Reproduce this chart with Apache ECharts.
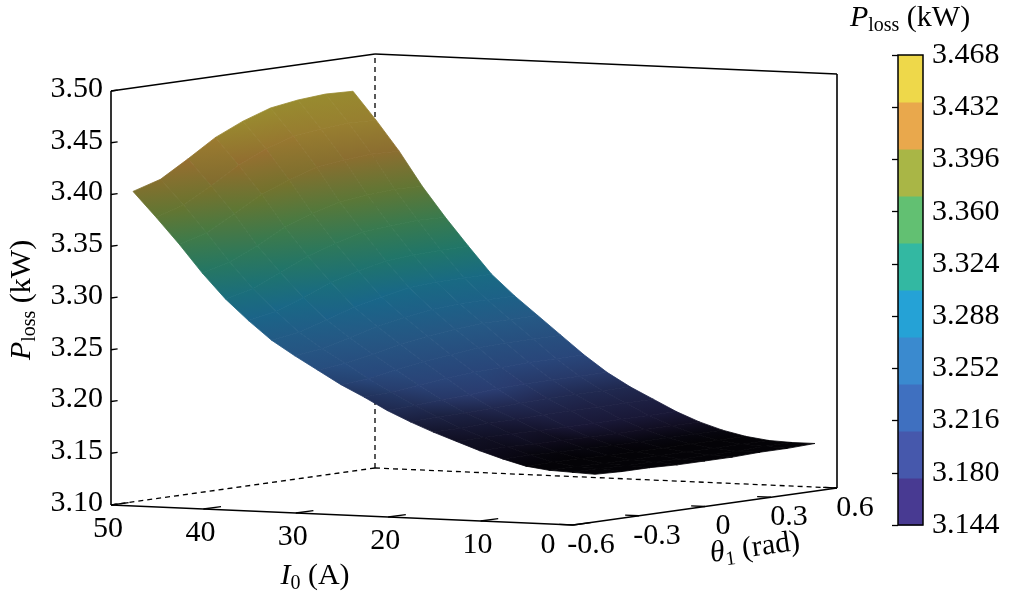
<!DOCTYPE html>
<html>
<head>
<meta charset="utf-8">
<script src="https://cdn.jsdelivr.net/npm/echarts@6/dist/echarts.min.js"></script>
<style>
html, body { margin: 0; padding: 0; background: #fff; }
#chart { width: 1012px; height: 607px; }
</style>
</head>
<body>
<div id="chart"></div>
<script>
// surface samples: one array per theta column, along I0
var i0Values = [0, 2.5, 5, 7.5, 10, 12.5, 15, 17.5, 20, 22.5, 25, 27.5, 30, 32.5, 35, 37.5, 40, 42.5, 45, 47.5, 50];
var thetaValues = [-0.5, -0.375, -0.25, -0.125, 0, 0.125, 0.25, 0.375, 0.5];
var lossThetaM500 = [3.146, 3.147, 3.148, 3.151, 3.157, 3.164, 3.172, 3.180, 3.189, 3.199, 3.211, 3.222, 3.235, 3.248, 3.262, 3.280, 3.300, 3.324, 3.351, 3.376, 3.400];
var lossThetaM375 = [3.145, 3.147, 3.148, 3.151, 3.157, 3.164, 3.172, 3.180, 3.190, 3.200, 3.212, 3.224, 3.238, 3.251, 3.266, 3.285, 3.306, 3.331, 3.358, 3.384, 3.408];
var lossThetaM250 = [3.145, 3.146, 3.147, 3.151, 3.156, 3.163, 3.172, 3.181, 3.190, 3.202, 3.215, 3.229, 3.243, 3.258, 3.274, 3.295, 3.318, 3.343, 3.373, 3.399, 3.424];
var lossThetaM125 = [3.144, 3.146, 3.147, 3.150, 3.156, 3.163, 3.171, 3.181, 3.191, 3.203, 3.218, 3.233, 3.249, 3.265, 3.283, 3.306, 3.330, 3.357, 3.388, 3.415, 3.441];
var lossTheta000  = [3.144, 3.145, 3.147, 3.150, 3.155, 3.162, 3.171, 3.182, 3.192, 3.205, 3.220, 3.236, 3.253, 3.270, 3.289, 3.313, 3.339, 3.367, 3.398, 3.427, 3.453];
var lossThetaP125 = [3.144, 3.145, 3.147, 3.150, 3.155, 3.162, 3.171, 3.182, 3.193, 3.206, 3.221, 3.239, 3.256, 3.274, 3.294, 3.319, 3.346, 3.374, 3.407, 3.436, 3.462];
var lossThetaP250 = [3.145, 3.145, 3.147, 3.150, 3.155, 3.162, 3.171, 3.182, 3.193, 3.206, 3.222, 3.240, 3.258, 3.276, 3.296, 3.321, 3.348, 3.377, 3.410, 3.439, 3.466];
var lossThetaP375 = [3.145, 3.146, 3.147, 3.150, 3.155, 3.162, 3.171, 3.182, 3.193, 3.206, 3.222, 3.240, 3.258, 3.276, 3.296, 3.322, 3.350, 3.379, 3.412, 3.441, 3.468];
var lossThetaP500 = [3.146, 3.146, 3.147, 3.150, 3.155, 3.162, 3.171, 3.182, 3.193, 3.206, 3.222, 3.240, 3.258, 3.276, 3.296, 3.322, 3.349, 3.378, 3.411, 3.440, 3.467];
var lossColumns = [lossThetaM500, lossThetaM375, lossThetaM250, lossThetaM125, lossTheta000,
                   lossThetaP125, lossThetaP250, lossThetaP375, lossThetaP500];

// axes
var i0Ticks = [50, 40, 30, 20, 10, 0];
var thetaTicks = [-0.6, -0.3, 0, 0.3, 0.6];
var zTicks = [3.10, 3.15, 3.20, 3.25, 3.30, 3.35, 3.40, 3.45, 3.50];
var i0Range = [0, 50];
var thetaRange = [-0.6, 0.6];
var zRange = [3.10, 3.50];

// colour bar (bands from bottom to top)
var cbarMin = 3.144;
var cbarMax = 3.468;
var cbarStep = 0.036;
var cbarColors = ['#483a92', '#4658ac', '#3f70c0', '#3a8acf', '#25a2d6',
                  '#33b8a2', '#62c072', '#a9b646', '#e9a84c', '#eed84a'];

var FONT = 'Liberation Serif';

// orthographic view of the box: front-bottom corner and the three edge vectors
var O = [573, 525], U = [-462, -20], V = [264, -37], W = [0, -414];
var VIEW = [0.5714, 1, -0.1173];
var LIGHT = (function () {
    var l = [-0.5714, -1, -0.15], m = Math.hypot(l[0], l[1], l[2]);
    return [l[0] / m, l[1] / m, l[2] / m];
})();

function norm(v, r) { return (v - r[0]) / (r[1] - r[0]); }
function proj(I, th, z) {
    var u = norm(I, i0Range), v = norm(th, thetaRange), w = norm(z, zRange);
    return [O[0] + u * U[0] + v * V[0] + w * W[0], O[1] + u * U[1] + v * V[1] + w * W[1]];
}

function hexRgb(h) {
    return [parseInt(h.slice(1, 3), 16), parseInt(h.slice(3, 5), 16), parseInt(h.slice(5, 7), 16)];
}
var cbarRgb = cbarColors.map(hexRgb);
function cmap(z) {
    var n = cbarRgb.length;
    var t = norm(z, [cbarMin, cbarMax]) * n - 0.5;
    t = Math.max(0, Math.min(n - 1, t));
    var k = Math.min(n - 2, Math.floor(t)), f = t - k;
    return [0, 1, 2].map(function (c) { return cbarRgb[k][c] + (cbarRgb[k + 1][c] - cbarRgb[k][c]) * f; });
}

var nI = i0Values.length, nT = thetaValues.length;
function zAt(i, j) { return lossColumns[j][i]; }

// vertex shading from the surface normal (light near the camera)
var vertexColor = [];
for (var i = 0; i < nI; i++) {
    vertexColor.push([]);
    for (var j = 0; j < nT; j++) {
        var a = Math.max(0, i - 1), b = Math.min(nI - 1, i + 1);
        var c = Math.max(0, j - 1), d = Math.min(nT - 1, j + 1);
        var dwdu = (norm(zAt(b, j), zRange) - norm(zAt(a, j), zRange)) /
                   (norm(i0Values[b], i0Range) - norm(i0Values[a], i0Range));
        var dwdv = (norm(zAt(i, d), zRange) - norm(zAt(i, c), zRange)) /
                   (norm(thetaValues[d], thetaRange) - norm(thetaValues[c], thetaRange));
        var len = Math.hypot(dwdu, dwdv, 1);
        var cos = (-dwdu * LIGHT[0] - dwdv * LIGHT[1] + LIGHT[2]) / len;
        var k = Math.max(0.05, Math.min(0.64, 0.05 + 2.9 * Math.max(cos, 0)));
        vertexColor[i].push(cmap(zAt(i, j)).map(function (x) { return x * k; }));
    }
}
function rgb(c) {
    return 'rgb(' + c.map(function (x) { return Math.round(Math.max(0, Math.min(255, x))); }).join(',') + ')';
}

// quads sorted far to near
var quads = [];
for (var qi = 0; qi < nI - 1; qi++) {
    for (var qj = 0; qj < nT - 1; qj++) {
        var u = norm((i0Values[qi] + i0Values[qi + 1]) / 2, i0Range);
        var v = norm((thetaValues[qj] + thetaValues[qj + 1]) / 2, thetaRange);
        var w = norm((zAt(qi, qj) + zAt(qi + 1, qj + 1)) / 2, zRange);
        quads.push([qi, qj, VIEW[0] * u + VIEW[1] * v + VIEW[2] * w]);
    }
}
quads.sort(function (p, q) { return q[2] - p[2]; });

// best single-direction linear gradient through the four corner colours
function quadGradient(pts, cols) {
    var mx = 0, my = 0, mc = [0, 0, 0];
    pts.forEach(function (p, k) {
        mx += p[0] / 4; my += p[1] / 4;
        for (var ch = 0; ch < 3; ch++) mc[ch] += cols[k][ch] / 4;
    });
    var sxx = 0, sxy = 0, syy = 0, sxc = [0, 0, 0], syc = [0, 0, 0];
    pts.forEach(function (p, k) {
        var dx = p[0] - mx, dy = p[1] - my;
        sxx += dx * dx; sxy += dx * dy; syy += dy * dy;
        for (var ch = 0; ch < 3; ch++) {
            sxc[ch] += dx * (cols[k][ch] - mc[ch]);
            syc[ch] += dy * (cols[k][ch] - mc[ch]);
        }
    });
    var det = sxx * syy - sxy * sxy;
    var g = [0, 0, 0].map(function (_, ch) {
        if (Math.abs(det) < 1e-9) return [0, 0];
        return [(syy * sxc[ch] - sxy * syc[ch]) / det, (sxx * syc[ch] - sxy * sxc[ch]) / det];
    });
    var m00 = 0, m01 = 0, m11 = 0;
    g.forEach(function (b) { m00 += b[0] * b[0]; m01 += b[0] * b[1]; m11 += b[1] * b[1]; });
    var ang = 0.5 * Math.atan2(2 * m01, m00 - m11);
    var dir = [Math.cos(ang), Math.sin(ang)];
    var ts = pts.map(function (p) { return (p[0] - mx) * dir[0] + (p[1] - my) * dir[1]; });
    var t0 = Math.min.apply(null, ts), t1 = Math.max.apply(null, ts);
    if (t1 - t0 < 1e-6) { t0 -= 0.5; t1 += 0.5; }
    function colAt(t) {
        return mc.map(function (m, ch) { return m + (g[ch][0] * dir[0] + g[ch][1] * dir[1]) * t; });
    }
    return new echarts.graphic.LinearGradient(
        mx + dir[0] * t0, my + dir[1] * t0, mx + dir[0] * t1, my + dir[1] * t1,
        [{ offset: 0, color: rgb(colAt(t0)) }, { offset: 1, color: rgb(colAt(t1)) }], true);
}

function renderSurface(params, api) {
    var i = api.value(0), j = api.value(1);
    var idx = [[i, j], [i, j + 1], [i + 1, j + 1], [i + 1, j]];
    var pts = idx.map(function (p) {
        return api.coord(proj(i0Values[p[0]], thetaValues[p[1]], zAt(p[0], p[1])));
    });
    var cols = idx.map(function (p) { return vertexColor[p[0]][p[1]]; });
    var grad = quadGradient(pts, cols);
    return {
        type: 'polygon',
        shape: { points: pts },
        style: { fill: grad, stroke: grad, lineWidth: 0.8 }
    };
}

function seg(api, p, q, dashed, width) {
    var a = api.coord(p), b = api.coord(q);
    return {
        type: 'line',
        shape: { x1: a[0], y1: a[1], x2: b[0], y2: b[1] },
        style: { stroke: '#000', lineWidth: width || 1.3, lineDash: dashed ? [5, 4] : null }
    };
}

var I1 = i0Range[1], I0 = i0Range[0], T0 = thetaRange[0], T1 = thetaRange[1], Z0 = zRange[0], Z1 = zRange[1];

function renderBack(params, api) {
    return {
        type: 'group',
        children: [
            seg(api, proj(I1, T1, Z0), proj(I1, T1, Z1), true),
            seg(api, proj(I1, T1, Z0), proj(I1, T0, Z0), true),
            seg(api, proj(I1, T1, Z0), proj(I0, T1, Z0), true)
        ]
    };
}

function renderFront(params, api) {
    var ch = [
        seg(api, proj(I1, T0, Z0), proj(I0, T0, Z0), false, 1.6),
        seg(api, proj(I0, T0, Z0), proj(I0, T1, Z0), false, 1.6),
        seg(api, proj(I1, T0, Z0), proj(I1, T0, Z1), false, 1.6),
        seg(api, proj(I0, T1, Z0), proj(I0, T1, Z1), false, 1.6),
        seg(api, proj(I1, T0, Z1), proj(I1, T1, Z1), false, 1.6),
        seg(api, proj(I1, T1, Z1), proj(I0, T1, Z1), false, 1.6)
    ];
    i0Ticks.forEach(function (t) { ch.push(seg(api, proj(t, T0, Z0), proj(t, T0 + 0.08, Z0), false, 1.3)); });
    thetaTicks.forEach(function (t) { ch.push(seg(api, proj(I0, t, Z0), proj(I0 + 1.5, t, Z0), false, 1.3)); });
    zTicks.forEach(function (t) { ch.push(seg(api, proj(I1, T0, t), proj(I1, T0 + 0.03, t), false, 1.3)); });
    return { type: 'group', children: ch };
}

var rich = {
    i: { fontFamily: FONT, fontStyle: 'italic', fontSize: 30, color: '#000' },
    s: { fontFamily: FONT, fontSize: 20, color: '#000', padding: [16, 0, 0, 0] },
    r: { fontFamily: FONT, fontSize: 30, color: '#000' }
};
function label(x, y, text, align, rot) {
    return {
        type: 'text', x: x, y: y, rotation: rot || 0,
        style: {
            text: text, fontFamily: FONT, fontSize: 30, fill: '#000',
            align: align || 'center', verticalAlign: 'middle', rich: rich
        }
    };
}

function renderLabels(params, api) {
    var ch = [];
    zTicks.forEach(function (t) {
        var p = api.coord(proj(I1, T0, t));
        ch.push(label(p[0] - 8, p[1] - 2, t.toFixed(2), 'right'));
    });
    i0Ticks.forEach(function (t) {
        var p = api.coord(proj(t, T0, Z0));
        var off = t === I0 ? [-25, 20] : [-3, 24];
        ch.push(label(p[0] + off[0], p[1] + off[1], String(t)));
    });
    thetaTicks.forEach(function (t) {
        var p = api.coord(proj(I0, t, Z0));
        ch.push(label(p[0] + 18, p[1] + 20, String(t)));
    });
    ch.push(label(22, 300, '{i|P}{s|loss}{r| (kW)}', 'center', Math.PI / 2));
    ch.push(label(315, 576, '{i|I}{s|0}{r| (A)}', 'center'));
    ch.push(label(755, 548, '{i|θ}{s|1}{r| (rad)}', 'center', Math.atan2(37, 264)));
    ch.push(label(910, 18, '{i|P}{s|loss}{r| (kW)}', 'center'));
    return { type: 'group', children: ch };
}

var cbarBands = cbarColors.map(function (c, k) { return [k]; });
function renderBar(params, api) {
    var k = api.value(0), h = (cbarMax - cbarMin) / cbarColors.length;
    var p1 = api.coord([0, cbarMin + (k + 1) * h]);
    var p2 = api.coord([1, cbarMin + k * h]);
    return {
        type: 'rect',
        shape: { x: p1[0], y: p1[1], width: p2[0] - p1[0], height: p2[1] - p1[1] + 0.5 },
        style: { fill: cbarColors[k] }
    };
}

var chart = echarts.init(document.getElementById('chart'));
chart.setOption({
    animation: false,
    backgroundColor: '#fff',
    grid: [
        { left: 0, right: 0, top: 0, bottom: 0 },
        { left: 898, top: 55, width: 25, height: 470, show: true, borderColor: '#000', borderWidth: 1.5, backgroundColor: 'transparent', z: 5 }
    ],
    xAxis: [
        { type: 'value', min: 0, max: 1012, show: false, gridIndex: 0 },
        { type: 'value', min: 0, max: 1, show: false, gridIndex: 1 }
    ],
    yAxis: [
        { type: 'value', min: 0, max: 607, inverse: true, show: false, gridIndex: 0 },
        {
            type: 'value', gridIndex: 1, min: cbarMin, max: cbarMax, interval: cbarStep, position: 'right',
            axisLine: { show: false },
            axisTick: { show: true, inside: true, length: 6, lineStyle: { color: '#000', width: 1.3 } },
            splitLine: { show: false },
            axisLabel: {
                margin: 9, color: '#000', fontFamily: FONT, fontSize: 30,
                formatter: function (v) { return v.toFixed(3); }
            }
        }
    ],
    series: [
        { type: 'custom', name: 'back', xAxisIndex: 0, yAxisIndex: 0, data: [[0, 0]], renderItem: renderBack, silent: true, z: 1 },
        { type: 'custom', name: 'surface', xAxisIndex: 0, yAxisIndex: 0, data: quads, renderItem: renderSurface, silent: true, z: 2 },
        { type: 'custom', name: 'front', xAxisIndex: 0, yAxisIndex: 0, data: [[0, 0]], renderItem: renderFront, silent: true, z: 3 },
        { type: 'custom', name: 'labels', xAxisIndex: 0, yAxisIndex: 0, data: [[0, 0]], renderItem: renderLabels, silent: true, z: 4 },
        { type: 'custom', name: 'colorbar', xAxisIndex: 1, yAxisIndex: 1, data: cbarBands, renderItem: renderBar, silent: true, z: 2 }
    ]
});
</script>
</body>
</html>
